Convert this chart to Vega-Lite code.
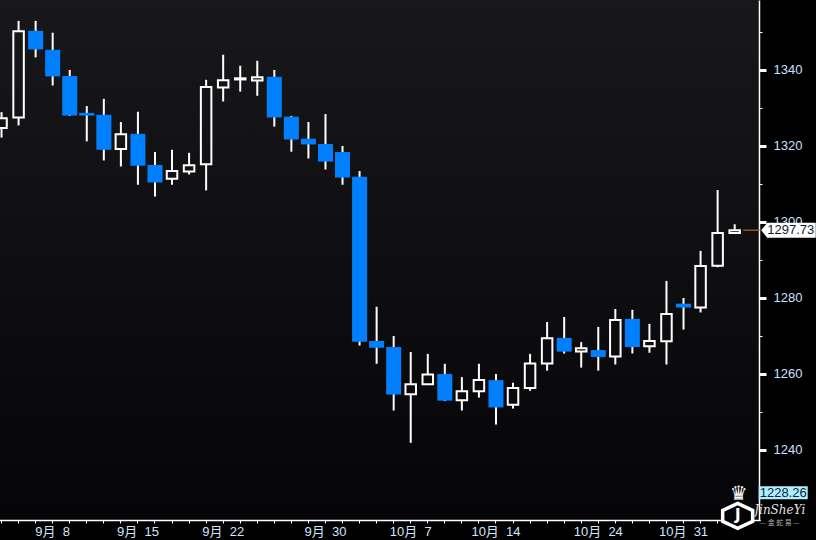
{
  "$schema": "https://vega.github.io/schema/vega-lite/v6.json",
  "width": 759,
  "height": 520,
  "autosize": {"type": "none"},
  "padding": {"left": 0, "top": 0, "right": 57, "bottom": 20},
  "background": "#000000",
  "config": {
    "view": {"stroke": null, "fill": {"gradient": "linear", "x1": 0, "y1": 0, "x2": 0, "y2": 1, "stops": [{"offset": 0, "color": "#18181b"}, {"offset": 1, "color": "#050508"}]}},
    "font": "Liberation Sans"
  },
  "datasets": {
    "ohlc": [
      {"date": "2016-09-05", "open": 1324.6, "high": 1328.8, "low": 1322.1, "close": 1327.2},
      {"date": "2016-09-06", "open": 1327.4, "high": 1352.8, "low": 1325.3, "close": 1350.1},
      {"date": "2016-09-07", "open": 1350.2, "high": 1352.8, "low": 1343.2, "close": 1345.3},
      {"date": "2016-09-08", "open": 1345.2, "high": 1349.7, "low": 1335.8, "close": 1338.2},
      {"date": "2016-09-09", "open": 1338.3, "high": 1339.9, "low": 1327.8, "close": 1327.9},
      {"date": "2016-09-12", "open": 1328.6, "high": 1330.4, "low": 1321.1, "close": 1327.9},
      {"date": "2016-09-13", "open": 1328.1, "high": 1332.3, "low": 1316.1, "close": 1318.9},
      {"date": "2016-09-14", "open": 1319.1, "high": 1326.2, "low": 1314.5, "close": 1323.0},
      {"date": "2016-09-15", "open": 1323.1, "high": 1328.9, "low": 1309.7, "close": 1314.7},
      {"date": "2016-09-16", "open": 1314.9, "high": 1318.3, "low": 1306.6, "close": 1310.3},
      {"date": "2016-09-19", "open": 1311.3, "high": 1318.9, "low": 1309.7, "close": 1313.3},
      {"date": "2016-09-20", "open": 1313.2, "high": 1318.1, "low": 1312.4, "close": 1314.8},
      {"date": "2016-09-21", "open": 1315.1, "high": 1337.3, "low": 1308.2, "close": 1335.4},
      {"date": "2016-09-22", "open": 1335.3, "high": 1343.9, "low": 1331.6, "close": 1337.2},
      {"date": "2016-09-23", "open": 1337.4, "high": 1341.0, "low": 1334.2, "close": 1337.7},
      {"date": "2016-09-26", "open": 1337.1, "high": 1342.3, "low": 1333.1, "close": 1338.0},
      {"date": "2016-09-27", "open": 1338.1, "high": 1339.9, "low": 1325.0, "close": 1327.4},
      {"date": "2016-09-28", "open": 1327.6, "high": 1327.8, "low": 1318.4, "close": 1321.6},
      {"date": "2016-09-29", "open": 1321.8, "high": 1326.2, "low": 1316.6, "close": 1320.3},
      {"date": "2016-09-30", "open": 1320.4, "high": 1328.3, "low": 1313.7, "close": 1315.8},
      {"date": "2016-10-03", "open": 1318.3, "high": 1319.9, "low": 1309.7, "close": 1311.6},
      {"date": "2016-10-04", "open": 1311.8, "high": 1313.3, "low": 1267.4, "close": 1268.4},
      {"date": "2016-10-05", "open": 1268.6, "high": 1277.6, "low": 1262.6, "close": 1266.8},
      {"date": "2016-10-06", "open": 1267.0, "high": 1269.9, "low": 1250.3, "close": 1254.5},
      {"date": "2016-10-07", "open": 1254.6, "high": 1265.7, "low": 1241.8, "close": 1257.2},
      {"date": "2016-10-10", "open": 1257.2, "high": 1265.2, "low": 1257.0, "close": 1259.8},
      {"date": "2016-10-11", "open": 1259.9, "high": 1262.6, "low": 1252.8, "close": 1252.9},
      {"date": "2016-10-12", "open": 1253.0, "high": 1259.1, "low": 1250.3, "close": 1255.4},
      {"date": "2016-10-13", "open": 1255.4, "high": 1262.6, "low": 1253.7, "close": 1258.3},
      {"date": "2016-10-14", "open": 1258.3, "high": 1259.9, "low": 1246.6, "close": 1251.1},
      {"date": "2016-10-17", "open": 1251.8, "high": 1257.6, "low": 1250.8, "close": 1256.2},
      {"date": "2016-10-18", "open": 1256.2, "high": 1265.2, "low": 1255.5, "close": 1262.7},
      {"date": "2016-10-19", "open": 1262.7, "high": 1273.6, "low": 1260.8, "close": 1269.3},
      {"date": "2016-10-20", "open": 1269.4, "high": 1274.9, "low": 1265.3, "close": 1265.8},
      {"date": "2016-10-21", "open": 1265.8, "high": 1268.3, "low": 1261.6, "close": 1266.7},
      {"date": "2016-10-24", "open": 1266.2, "high": 1272.3, "low": 1260.8, "close": 1264.4},
      {"date": "2016-10-25", "open": 1264.5, "high": 1277.0, "low": 1262.4, "close": 1274.1},
      {"date": "2016-10-26", "open": 1274.4, "high": 1276.8, "low": 1265.3, "close": 1267.0},
      {"date": "2016-10-27", "open": 1267.2, "high": 1273.1, "low": 1265.5, "close": 1268.6},
      {"date": "2016-10-28", "open": 1268.5, "high": 1284.4, "low": 1262.4, "close": 1275.7},
      {"date": "2016-10-31", "open": 1278.4, "high": 1279.9, "low": 1271.6, "close": 1277.4},
      {"date": "2016-11-01", "open": 1277.4, "high": 1292.3, "low": 1276.1, "close": 1288.3},
      {"date": "2016-11-02", "open": 1288.4, "high": 1308.3, "low": 1288.0, "close": 1297.0},
      {"date": "2016-11-03", "open": 1297.0, "high": 1299.3, "low": 1296.9, "close": 1297.73}
    ],
    "last": [{"date": "2016-11-04", "price": 1297.73, "label": "1297.73"}],
    "low": [{"date": "2016-11-04", "price": 1228.26, "label": "1228.26"}],
    "crown": [{"date": "2016-11-03", "price": 1228.3, "label": "♛"}],
    "shield": [{"date": "2016-11-03", "price": 1222.7, "label": "J"}],
    "brand": [{"date": "2016-11-04", "price": 1224.13, "label": "JinSheYi"}],
    "brandcn": [{"date": "2016-11-04", "price": 1220.71, "label": "— 金 蛇 易 —"}]
  },
  "encoding": {
    "x": {
      "field": "date",
      "type": "ordinal",
      "scale": {
        "domain": ["2016-09-05","2016-09-06","2016-09-07","2016-09-08","2016-09-09","2016-09-12","2016-09-13","2016-09-14","2016-09-15","2016-09-16","2016-09-19","2016-09-20","2016-09-21","2016-09-22","2016-09-23","2016-09-26","2016-09-27","2016-09-28","2016-09-29","2016-09-30","2016-10-03","2016-10-04","2016-10-05","2016-10-06","2016-10-07","2016-10-10","2016-10-11","2016-10-12","2016-10-13","2016-10-14","2016-10-17","2016-10-18","2016-10-19","2016-10-20","2016-10-21","2016-10-24","2016-10-25","2016-10-26","2016-10-27","2016-10-28","2016-10-31","2016-11-01","2016-11-02","2016-11-03","2016-11-04"],
        "range": [-7, 760.25],
        "paddingInner": 0,
        "paddingOuter": 0
      },
      "axis": {
        "title": null,
        "grid": false,
        "domainColor": "#ffffff",
        "domainWidth": 1.5,
        "tickColor": "#ffffff",
        "tickSize": 3,
        "tickWidth": 1,
        "labelAngle": 0,
        "labelColor": "#cfe6ff",
        "labelFont": "Liberation Sans, Noto Sans CJK SC",
        "labelFontSize": 13,
        "labelPadding": 2,
        "labelOverlap": false,
        "labelBound": false,
        "labelExpr": "indexof(['2016-09-08','2016-09-15','2016-09-22','2016-09-30','2016-10-07','2016-10-14','2016-10-24','2016-10-31'], datum.value) >= 0 ? (toNumber(substring(datum.value,5,7)) + '月\u00a0 ' + toNumber(substring(datum.value,8,10))) : ''"
      }
    }
  },
  "layer": [
    {
      "data": {"name": "ohlc"},
      "transform": [{"filter": "datum.close < datum.open"}],
      "mark": {"type": "rule", "color": "#ffffff", "strokeWidth": 2, "clip": true},
      "encoding": {
        "y": {
          "field": "high", "type": "quantitative",
          "scale": {"domain": [1221.5, 1358.3], "nice": false, "zero": false},
          "axis": {
            "orient": "right",
            "title": null,
            "grid": false,
            "format": "d",
            "values": [1230, 1240, 1250, 1260, 1270, 1280, 1290, 1300, 1310, 1320, 1330, 1340, 1350],
            "domainColor": "#ffffff",
            "domainWidth": 1.5,
            "tickColor": "#ffffff",
            "tickSize": {"condition": {"test": "datum.value % 20 === 0", "value": 7}, "value": 3},
            "tickWidth": {"condition": {"test": "datum.value % 20 === 0", "value": 3}, "value": 1},
            "labelColor": "#c8e2ff",
            "labelFont": "Liberation Sans",
            "labelFontSize": 13,
            "labelPadding": 7,
            "labelExpr": "datum.value % 20 === 0 ? datum.label : ''"
          }
        },
        "y2": {"field": "low"}
      }
    },
    {
      "data": {"name": "ohlc"},
      "transform": [{"filter": "datum.close >= datum.open"}],
      "mark": {"type": "rule", "color": "#ffffff", "strokeWidth": 2, "clip": true},
      "encoding": {
        "y": {"field": "high", "type": "quantitative", "scale": {"domain": [1221.5, 1358.3], "nice": false, "zero": false}},
        "y2": {"field": "close"}
      }
    },
    {
      "data": {"name": "ohlc"},
      "transform": [{"filter": "datum.close >= datum.open"}],
      "mark": {"type": "rule", "color": "#ffffff", "strokeWidth": 2, "clip": true},
      "encoding": {
        "y": {"field": "open", "type": "quantitative", "scale": {"domain": [1221.5, 1358.3], "nice": false, "zero": false}},
        "y2": {"field": "low"}
      }
    },
    {
      "data": {"name": "ohlc"},
      "transform": [{"filter": "datum.close < datum.open"}],
      "mark": {"type": "bar", "color": "#0080ff", "width": 15, "clip": true},
      "encoding": {
        "y": {"field": "open", "type": "quantitative", "scale": {"domain": [1221.5, 1358.3], "nice": false, "zero": false}},
        "y2": {"field": "close"}
      }
    },
    {
      "data": {"name": "ohlc"},
      "transform": [{"filter": "datum.close >= datum.open"}],
      "mark": {"type": "bar", "filled": false, "color": "#ffffff", "stroke": "#ffffff", "strokeWidth": 2, "width": 10.5, "clip": true},
      "encoding": {
        "y": {"field": "open", "type": "quantitative", "scale": {"domain": [1221.5, 1358.3], "nice": false, "zero": false}},
        "y2": {"field": "close"}
      }
    },
    {
      "data": {"name": "last"},
      "mark": {"type": "tick", "orient": "horizontal", "color": "#c8781e", "size": 17, "thickness": 1.5},
      "encoding": {
        "y": {"field": "price", "type": "quantitative", "scale": {"domain": [1221.5, 1358.3], "nice": false, "zero": false}}
      }
    },
    {
      "data": {"name": "last"},
      "mark": {"type": "point", "shape": "M9.5,0 L15.5,-7.5 L64,-7.5 L64,7.5 L15.5,7.5 Z", "size": 4, "filled": true, "color": "#ffffff", "opacity": 1, "strokeWidth": 0},
      "encoding": {
        "y": {"field": "price", "type": "quantitative", "scale": {"domain": [1221.5, 1358.3], "nice": false, "zero": false}}
      }
    },
    {
      "data": {"name": "last"},
      "mark": {"type": "text", "dx": 39, "align": "center", "baseline": "middle", "color": "#0b1a3a", "font": "Liberation Sans", "fontSize": 13},
      "encoding": {
        "y": {"field": "price", "type": "quantitative", "scale": {"domain": [1221.5, 1358.3], "nice": false, "zero": false}},
        "text": {"field": "label"}
      }
    },
    {
      "data": {"name": "low"},
      "mark": {"type": "point", "shape": "M7,-8 L56,-8 L56,5 L7,5 Z", "size": 4, "filled": true, "color": "#aef0fc", "opacity": 1, "strokeWidth": 0},
      "encoding": {
        "y": {"field": "price", "type": "quantitative", "scale": {"domain": [1221.5, 1358.3], "nice": false, "zero": false}}
      }
    },
    {
      "data": {"name": "low"},
      "mark": {"type": "text", "dx": 31.5, "dy": -1.5, "align": "center", "baseline": "middle", "color": "#12224a", "font": "Liberation Sans", "fontSize": 13},
      "encoding": {
        "y": {"field": "price", "type": "quantitative", "scale": {"domain": [1221.5, 1358.3], "nice": false, "zero": false}},
        "text": {"field": "label"}
      }
    },
    {
      "data": {"name": "shield"},
      "mark": {"type": "point", "shape": "M3,-12 L18,-5 L18,6 L3,13 L-12,6 L-12,-5 Z", "size": 4, "filled": true, "fill": "#050508", "stroke": "#ffffff", "strokeWidth": 3.5, "opacity": 1},
      "encoding": {
        "y": {"field": "price", "type": "quantitative", "scale": {"domain": [1221.5, 1358.3], "nice": false, "zero": false}}
      }
    },
    {
      "data": {"name": "shield"},
      "mark": {"type": "text", "dx": 3, "align": "center", "baseline": "middle", "color": "#ffffff", "font": "DejaVu Sans", "fontWeight": "bold", "fontSize": 15},
      "encoding": {
        "y": {"field": "price", "type": "quantitative", "scale": {"domain": [1221.5, 1358.3], "nice": false, "zero": false}},
        "text": {"field": "label"}
      }
    },
    {
      "data": {"name": "crown"},
      "mark": {"type": "text", "dx": 4, "align": "center", "baseline": "middle", "color": "#ffffff", "font": "DejaVu Sans", "fontSize": 20},
      "encoding": {
        "y": {"field": "price", "type": "quantitative", "scale": {"domain": [1221.5, 1358.3], "nice": false, "zero": false}},
        "text": {"field": "label"}
      }
    },
    {
      "data": {"name": "brand"},
      "mark": {"type": "text", "dx": 28, "align": "center", "baseline": "middle", "color": "#e0e0e0", "font": "DejaVu Serif", "fontStyle": "italic", "fontSize": 12},
      "encoding": {
        "y": {"field": "price", "type": "quantitative", "scale": {"domain": [1221.5, 1358.3], "nice": false, "zero": false}},
        "text": {"field": "label"}
      }
    },
    {
      "data": {"name": "brandcn"},
      "mark": {"type": "text", "dx": 28, "align": "center", "baseline": "middle", "color": "#b0b0b0", "font": "Noto Sans CJK SC", "fontSize": 7},
      "encoding": {
        "y": {"field": "price", "type": "quantitative", "scale": {"domain": [1221.5, 1358.3], "nice": false, "zero": false}},
        "text": {"field": "label"}
      }
    }
  ]
}
